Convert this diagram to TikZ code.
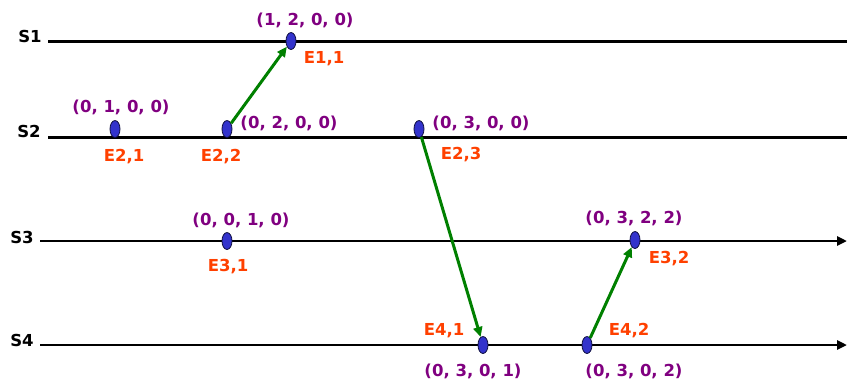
\documentclass[tikz,border=0pt]{standalone}
\usepackage{fontspec}
\setmainfont{DejaVu Sans}
\usepackage{tikz}
\usetikzlibrary{shapes.geometric,arrows.meta,positioning}
\definecolor{ClockPurple}{HTML}{800080}
\definecolor{EventRed}{HTML}{FF4000}
\definecolor{EventBlue}{HTML}{3333CC}
\definecolor{EventRim}{HTML}{101040}
\definecolor{MsgGreen}{HTML}{008000}

\begin{document}
\begin{tikzpicture}[x=1pt, y=-1pt,
  procline/.style={black, line width=3pt},
  proclabel/.style={font=\bfseries\fontsize{16.5}{19}\selectfont, text=black, anchor=base},
  event/.style={ellipse, draw=EventRim, fill=EventBlue, line width=0.8pt, inner sep=0pt, minimum width=10pt, minimum height=17pt},
  evname/.style={font=\bfseries\fontsize{16.5}{19}\selectfont, text=EventRed, anchor=base},
  clock/.style={font=\bfseries\fontsize{16.5}{19}\selectfont, text=ClockPurple, anchor=base},
  msg/.style={MsgGreen, line width=3pt, -{Triangle[length=10pt, width=9pt]}}]

\useasboundingbox (0,0) rectangle (847,383);

% process lines
\node[proclabel] (s1) at (30,42) {S1};
\node[proclabel] (s2) at (29,137) {S2};
\node[proclabel] (s3) at (22,243) {S3};
\node[proclabel] (s4) at (22,346) {S4};
\coordinate (s1start) at (48,41);  \coordinate (s1end) at (847,41);
\coordinate (s2start) at (48,137); \coordinate (s2end) at (847,137);
\coordinate (s3start) at (40,241); \coordinate (s3end) at (847,241);
\coordinate (s4start) at (40,345); \coordinate (s4end) at (847,345);
\draw[procline] (s1start) -- (s1end);
\draw[procline] (s2start) -- (s2end);
\draw[procline, line width=2.5pt, -{Triangle[length=10pt, width=9pt]}] (s3start) -- (s3end);
\draw[procline, line width=2.5pt, -{Triangle[length=10pt, width=9pt]}] (s4start) -- (s4end);

% events
\node[event] (e11) at (291,41) {};
\node[event] (e21) at (115,129) {};
\node[event] (e22) at (227,129) {};
\node[event] (e23) at (419,129) {};
\node[event] (e31) at (227,241) {};
\node[event] (e32) at (635,240) {};
\node[event] (e41) at (483,345) {};
\node[event] (e42) at (587,345) {};

% event names
\node[evname] (n11) at (324,63) {E1,1};
\node[evname] (n21) at (124,161) {E2,1};
\node[evname] (n22) at (221,161) {E2,2};
\node[evname] (n23) at (461,159) {E2,3};
\node[evname] (n31) at (228,271) {E3,1};
\node[evname] (n32) at (669,263) {E3,2};
\node[evname] (n41) at (444,335) {E4,1};
\node[evname] (n42) at (629,335) {E4,2};

% vector clocks
\node[clock] (c11) at (305,25) {(1, 2, 0, 0)};
\node[clock] (c21) at (121,112) {(0, 1, 0, 0)};
\node[clock] (c22) at (289,128) {(0, 2, 0, 0)};
\node[clock] (c23) at (481,128) {(0, 3, 0, 0)};
\node[clock] (c31) at (241,225) {(0, 0, 1, 0)};
\node[clock] (c32) at (634,223) {(0, 3, 2, 2)};
\node[clock] (c41) at (473,376) {(0, 3, 0, 1)};
\node[clock] (c42) at (634,376) {(0, 3, 0, 2)};

% messages
\draw[msg] (e22) -- (e11);
\draw[msg] (e23) -- (e41);
\draw[msg] (e42) -- (e32);
\end{tikzpicture}
\end{document}
